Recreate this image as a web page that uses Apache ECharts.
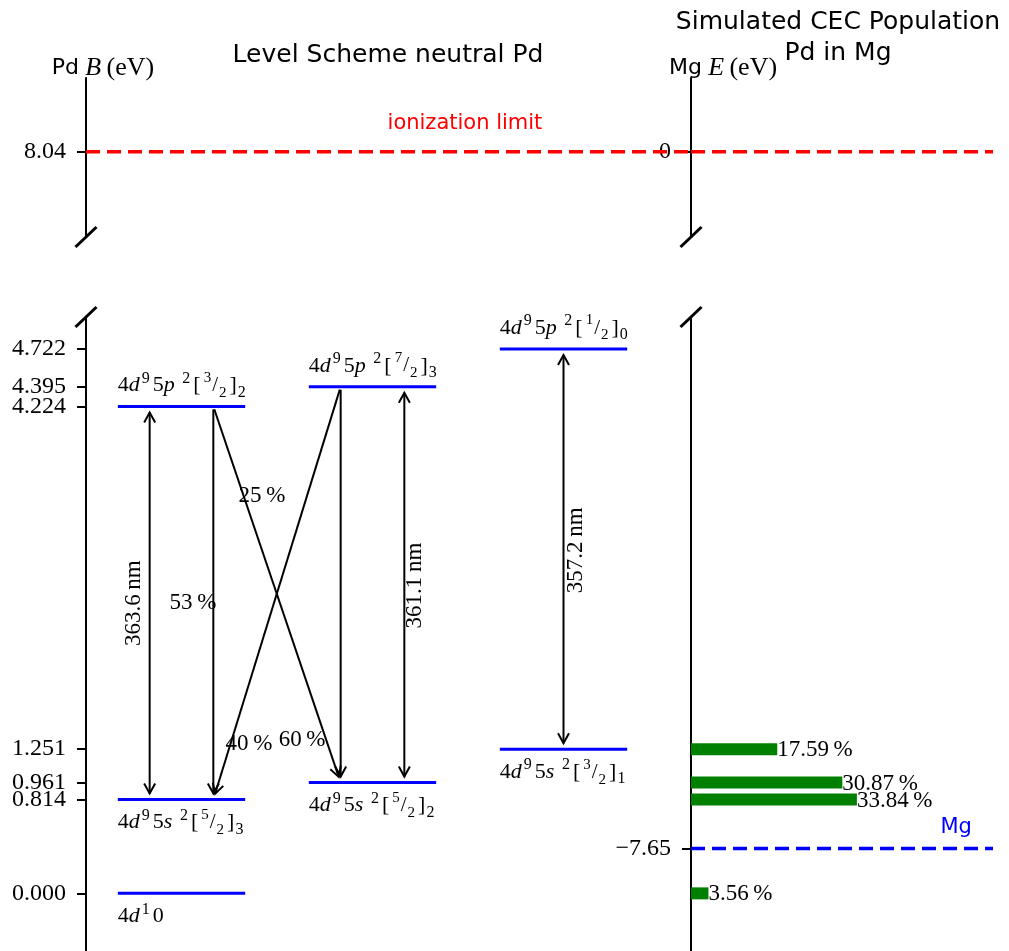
<!DOCTYPE html>
<html>
<head>
<meta charset="utf-8">
<script src="https://cdn.jsdelivr.net/npm/echarts@6/dist/echarts.min.js"></script>
<style>
  html, body { margin: 0; padding: 0; background: #ffffff; }
  #chart { width: 1009px; height: 951px; }
</style>
</head>
<body>
<div id="chart"></div>
<script>
// ---- Pd level scheme (binding energy B in eV) ----
const levelNames = [
  '4d^{1}0',
  '4d^{9}5s ^{2}[{5/2}]_{3}',
  '4d^{9}5p ^{2}[{3/2}]_{2}',
  '4d^{9}5s ^{2}[{5/2}]_{2}',
  '4d^{9}5p ^{2}[{7/2}]_{3}',
  '4d^{9}5s ^{2}[{3/2}]_{1}',
  '4d^{9}5p ^{2}[{1/2}]_{0}'
];
const levelEnergies = [0.000, 0.814, 4.224, 0.961, 4.395, 1.251, 4.722];
const levelColumns = [0, 0, 0, 1, 1, 2, 2];
const levelLabelAbove = [false, false, true, false, true, false, true];

const ionizationLimit = 8.04;
const pdTicksTop = [8.04];
const pdTicksBottom = [0.000, 0.814, 0.961, 1.251, 4.224, 4.395, 4.722];

// ---- transitions between levels ----
const transitionLabels = ['363.6 nm', '53 %', '25 %', '40 %', '60 %', '361.1 nm', '357.2 nm'];
const transitionFrom = [1, 2, 2, 4, 4, 3, 5];
const transitionTo = [2, 1, 3, 1, 3, 4, 6];
const transitionFromX = [1 / 3, 2 / 3, 2 / 3, 4 / 3, 4 / 3, 5 / 3, 2.5];
const transitionToX = [1 / 3, 2 / 3, 4 / 3, 2 / 3, 4 / 3, 5 / 3, 2.5];
const transitionTwoWay = [true, false, false, false, false, true, true];

// ---- simulated charge-exchange population (Mg energy scale E in eV) ----
const mgTicksTop = [0];
const mgTicksBottom = [-7.65];
const mgLevel = -7.65;
const popEnergies = [-6.789, -7.079, -7.226, -8.040];
const popPercent = [17.59, 30.87, 33.84, 3.56];

// ---- layout / style ----
const SERIF = 'Liberation Serif';
const SANS = 'DejaVu Sans';
const XMAX_L = 3.1675;
const XMAX_R = 61.6;
const TOP_G = { top: 78, height: 159 };
const BOT_G = { top: 317, height: 636 };
const LEFT_X = 86, RIGHT_X = 691;

// placement of the transition labels in diagram coordinates
const transitionLabelPos = [[0.251, 2.517], [0.56, 2.517], [0.921, 3.45], [0.853, 1.30], [1.131, 1.33], [1.723, 2.67], [2.565, 2.976]];

const RICH = {
  n:   { fontFamily: SERIF, fontSize: 22, lineHeight: 30, fill: '#000' },
  it:  { fontFamily: SERIF, fontSize: 22, lineHeight: 30, fontStyle: 'italic', fill: '#000', padding: [0, 1, 0, 0] },
  sup: { fontFamily: SERIF, fontSize: 16, lineHeight: 16, verticalAlign: 'top', fill: '#000', padding: [0, 3, 0, 1] },
  sub: { fontFamily: SERIF, fontSize: 16, lineHeight: 19, verticalAlign: 'bottom', fill: '#000', padding: [0, 0, 0, 1] },
  fn:  { fontFamily: SERIF, fontSize: 15, lineHeight: 20, verticalAlign: 'top', fill: '#000', padding: [0, 1, 0, 3] },
  fs:  { fontFamily: SERIF, fontSize: 21, lineHeight: 30, fill: '#000' },
  fd:  { fontFamily: SERIF, fontSize: 15, lineHeight: 22, verticalAlign: 'bottom', fill: '#000', padding: [0, 3, 0, 1] }
};

// turn the compact term notation into rich-text fragments
function richLabel(s) {
  const re = /\^\{([^}]*)\}|_\{([^}]*)\}|\{(\d)\/(\d)\}|([a-zA-Z]+)|([^\^_{a-zA-Z]+)/g;
  let out = '', m;
  while ((m = re.exec(s)) !== null) {
    if (m[1] !== undefined) out += '{sup|' + m[1] + '}';
    else if (m[2] !== undefined) out += '{sub|' + m[2] + '}';
    else if (m[3] !== undefined) out += '{fn|' + m[3] + '}{fs|/}{fd|' + m[4] + '}';
    else if (m[5] !== undefined) out += '{it|' + m[5] + '}';
    else out += '{n|' + m[6] + '}';
  }
  return out;
}

function arrowHead(tip, ux, uy) {
  const L = 10, W = 5.5;
  const bx = tip[0] - ux * L, by = tip[1] - uy * L;
  return {
    type: 'polyline',
    shape: { points: [[bx - uy * W, by + ux * W], [tip[0], tip[1]], [bx + uy * W, by - ux * W]] },
    style: { stroke: '#000', lineWidth: 2, fill: null }
  };
}

function renderLevel(params, api) {
  const i = params.dataIndex;
  const a = api.coord([api.value(0), api.value(2)]);
  const b = api.coord([api.value(1), api.value(2)]);
  const above = levelLabelAbove[i];
  return {
    type: 'group',
    children: [
      { type: 'line', shape: { x1: a[0], y1: a[1], x2: b[0], y2: b[1] },
        style: { stroke: '#0000ff', lineWidth: 3 } },
      { type: 'text', x: a[0], y: above ? a[1] - 6 : a[1] + 8,
        style: { text: richLabel(levelNames[i]), rich: RICH, fill: '#000',
                 align: 'left', verticalAlign: above ? 'bottom' : 'top' } }
    ]
  };
}

function renderTransition(params, api) {
  const k = params.dataIndex;
  const p = api.coord([api.value(0), api.value(1)]);
  const q = api.coord([api.value(2), api.value(3)]);
  const twoWay = transitionTwoWay[k];
  const dx = q[0] - p[0], dy = q[1] - p[1];
  const len = Math.hypot(dx, dy);
  const ux = dx / len, uy = dy / len;
  const sA = twoWay ? 6 : 3, sB = 6;
  const a = [p[0] + ux * sA, p[1] + uy * sA];
  const b = [q[0] - ux * sB, q[1] - uy * sB];
  const children = [
    { type: 'line', shape: { x1: a[0], y1: a[1], x2: b[0], y2: b[1] },
      style: { stroke: '#000', lineWidth: 2 } },
    arrowHead(b, ux, uy)
  ];
  if (twoWay) children.push(arrowHead(a, -ux, -uy));
  const lp = api.coord(transitionLabelPos[k]);
  const isWave = transitionLabels[k].indexOf('nm') >= 0;
  children.push({
    type: 'text', x: lp[0], y: lp[1], rotation: isWave ? Math.PI / 2 : 0,
    style: { text: transitionLabels[k].replace(' ', '\u2009'), fontFamily: SERIF, fontSize: 23,
             fill: '#000', align: 'center', verticalAlign: 'middle' }
  });
  return { type: 'group', children: children };
}

function renderPopulation(params, api) {
  const i = params.dataIndex;
  const a = api.coord([0, api.value(0)]);
  const b = api.coord([api.value(1), api.value(0)]);
  return {
    type: 'group',
    children: [
      { type: 'rect', shape: { x: a[0], y: a[1] - 6, width: b[0] - a[0], height: 12 },
        style: { fill: '#008000' } },
      { type: 'text', x: b[0], y: b[1] + 1,
        style: { text: popPercent[i].toFixed(2) + '\u2009%', fontFamily: SERIF, fontSize: 23,
                 fill: '#000', align: 'left', verticalAlign: 'middle' } }
    ]
  };
}

// plain text annotation anchored in data coordinates
function noteSeries(xi, yi, pos, text, color, align) {
  return {
    type: 'custom', xAxisIndex: xi, yAxisIndex: yi, silent: true, z: 5,
    data: [pos],
    renderItem: function (params, api) {
      const p = api.coord([api.value(0), api.value(1)]);
      return { type: 'text', x: p[0], y: p[1],
               style: { text: text, fontFamily: SANS, fontSize: 21, fill: color,
                        align: align, verticalAlign: 'middle' } };
    }
  };
}

function yAxisBase(gridIndex, min, max, ticks, fmt) {
  return {
    gridIndex: gridIndex, type: 'value', min: min, max: max, position: 'left',
    axisLine: { show: true, onZero: false, lineStyle: { color: '#000', width: 2 } },
    axisTick: { show: true, length: 9, customValues: ticks, lineStyle: { color: '#000', width: 2 } },
    axisLabel: { show: true, customValues: ticks, formatter: fmt, margin: 20,
                 fontFamily: SERIF, fontSize: 24, color: '#000' },
    splitLine: { show: false }
  };
}

const mgFmt = v => (v === 0 ? '0' : (v < 0 ? '\u2212' : '') + Math.abs(v).toFixed(2));

const axisNameRich = {
  s: { fontFamily: SANS, fontSize: 22, fill: '#000', padding: [0, 3, 0, 0] },
  i: { fontFamily: SERIF, fontStyle: 'italic', fontSize: 26, fill: '#000', padding: [0, 2, 0, 0] },
  m: { fontFamily: SERIF, fontSize: 26, fill: '#000' }
};

const chart = echarts.init(document.getElementById('chart'), null, { renderer: 'canvas' });

chart.setOption({
  animation: false,
  backgroundColor: '#ffffff',
  grid: [
    { left: LEFT_X, top: TOP_G.top, width: RIGHT_X - LEFT_X, height: TOP_G.height },
    { left: LEFT_X, top: BOT_G.top, width: RIGHT_X - LEFT_X, height: BOT_G.height },
    { left: RIGHT_X, top: TOP_G.top, width: 302, height: TOP_G.height },
    { left: RIGHT_X, top: BOT_G.top, width: 302, height: BOT_G.height }
  ],
  xAxis: [
    { gridIndex: 0, type: 'value', min: 0, max: XMAX_L, show: false },
    { gridIndex: 1, type: 'value', min: 0, max: XMAX_L, show: false },
    { gridIndex: 2, type: 'value', min: 0, max: XMAX_R, show: false },
    { gridIndex: 3, type: 'value', min: 0, max: XMAX_R, show: false }
  ],
  yAxis: [
    yAxisBase(0, 7.30, 8.68, pdTicksTop, v => v.toFixed(2)),
    yAxisBase(1, -0.5, 5.0, pdTicksBottom, v => v.toFixed(3)),
    yAxisBase(2, 7.30 - ionizationLimit, 8.68 - ionizationLimit, mgTicksTop, mgFmt),
    yAxisBase(3, -0.5 - ionizationLimit, 5.0 - ionizationLimit, mgTicksBottom, mgFmt)
  ],
  graphic: [
    // axis titles
    { type: 'text', x: 103, y: 68,
      style: { text: '{s|Pd} {i|B} {m|(eV)}', align: 'center', verticalAlign: 'middle', rich: axisNameRich } },
    { type: 'text', x: 723, y: 68,
      style: { text: '{s|Mg} {i|E} {m|(eV)}', align: 'center', verticalAlign: 'middle', rich: axisNameRich } },
    // panel titles
    { type: 'text', x: 388, y: 55,
      style: { text: 'Level Scheme neutral Pd', fontFamily: SANS, fontSize: 25, fill: '#000',
               align: 'center', verticalAlign: 'middle' } },
    { type: 'text', x: 838, y: 38,
      style: { text: 'Simulated CEC Population\nPd in Mg', fontFamily: SANS, fontSize: 25, lineHeight: 31,
               fill: '#000', align: 'center', verticalAlign: 'middle' } },
    // axis break marks
    { type: 'line', shape: { x1: LEFT_X - 10.5, y1: 247, x2: LEFT_X + 10.5, y2: 227 }, style: { stroke: '#000', lineWidth: 3 } },
    { type: 'line', shape: { x1: LEFT_X - 10.5, y1: 327, x2: LEFT_X + 10.5, y2: 307 }, style: { stroke: '#000', lineWidth: 3 } },
    { type: 'line', shape: { x1: RIGHT_X - 10.5, y1: 247, x2: RIGHT_X + 10.5, y2: 227 }, style: { stroke: '#000', lineWidth: 3 } },
    { type: 'line', shape: { x1: RIGHT_X - 10.5, y1: 327, x2: RIGHT_X + 10.5, y2: 307 }, style: { stroke: '#000', lineWidth: 3 } }
  ],
  series: [
    { type: 'line', xAxisIndex: 0, yAxisIndex: 0, silent: true, symbol: 'none',
      data: [[0, ionizationLimit], [XMAX_L, ionizationLimit]],
      lineStyle: { color: '#ff0000', width: 3.5, type: [14, 7] } },
    { type: 'line', xAxisIndex: 2, yAxisIndex: 2, silent: true, symbol: 'none',
      data: [[0, 0], [XMAX_R, 0]],
      lineStyle: { color: '#ff0000', width: 3.5, type: [14, 7] } },
    { type: 'line', xAxisIndex: 3, yAxisIndex: 3, silent: true, symbol: 'none',
      data: [[0, mgLevel], [XMAX_R, mgLevel]],
      lineStyle: { color: '#0000ff', width: 3.5, type: [14, 7] } },
    noteSeries(0, 0, [1.984, 8.285], 'ionization limit', '#ff0000', 'center'),
    noteSeries(3, 3, [57.3, -7.47], 'Mg', '#0000ff', 'right'),
    { type: 'custom', xAxisIndex: 1, yAxisIndex: 1, silent: true,
      renderItem: renderLevel,
      data: levelEnergies.map((e, i) => [levelColumns[i] + 1 / 6, levelColumns[i] + 5 / 6, e]) },
    { type: 'custom', xAxisIndex: 1, yAxisIndex: 1, silent: true,
      renderItem: renderTransition,
      data: transitionFrom.map((f, k) => [transitionFromX[k], levelEnergies[f], transitionToX[k], levelEnergies[transitionTo[k]]]) },
    { type: 'custom', xAxisIndex: 3, yAxisIndex: 3, silent: true,
      renderItem: renderPopulation,
      data: popEnergies.map((e, i) => [e, popPercent[i]]) }
  ]
});
</script>
</body>
</html>
